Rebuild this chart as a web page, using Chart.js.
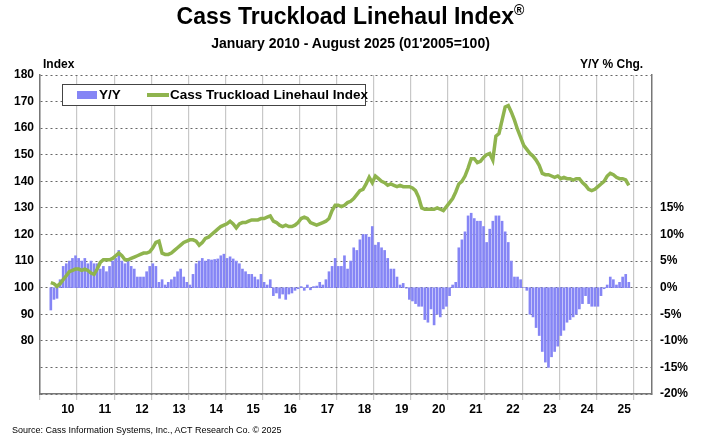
<!DOCTYPE html>
<html><head><meta charset="utf-8">
<script src="https://cdn.jsdelivr.net/npm/chart.js@4"></script>
<style>
body{margin:0;width:701px;height:441px;position:relative;background:#fff;font-family:"Liberation Sans",Arial,sans-serif;overflow:hidden}
.t{position:absolute;white-space:nowrap;font-weight:bold;color:#000}
#c{position:absolute;left:0;top:0}
</style></head><body>
<canvas id="c" width="701" height="441"></canvas>
<div class="t" style="left:0;width:701px;text-align:center;top:2px;font-size:23px">Cass Truckload Linehaul Index<sup style="font-size:14px">®</sup></div>
<div class="t" style="left:0;width:701px;text-align:center;top:35px;font-size:14px">January 2010 - August 2025 (01'2005=100)</div>
<div class="t" style="left:43px;top:57px;font-size:12px">Index</div>
<div class="t" style="left:580px;top:57px;font-size:12px">Y/Y % Chg.</div>
<div class="t" style="left:12px;top:425px;font-size:9px;font-weight:normal">Source: Cass Information Systems, Inc., ACT Research Co. © 2025</div>
<div style="position:absolute;left:62px;top:84px;width:302px;height:20px;border:1px solid #444;background:#fff;font-weight:bold;font-size:13.5px;white-space:nowrap">
 <span style="position:absolute;left:14px;top:6px;width:20px;height:8px;background:#8585f5"></span>
 <span style="position:absolute;left:36px;top:2px">Y/Y</span>
 <span style="position:absolute;left:84px;top:8px;width:22px;height:4px;background:#8fb44e"></span>
 <span style="position:absolute;left:107px;top:2px">Cass Truckload Linehaul Index</span>
</div>
<script>
const yearLabels=['10','11','12','13','14','15','16','17','18','19','20','21','22','23','24','25'];
const indexValues=[
101.9,101.5,100.5,101.5,103,104.5,106,106.5,107,107,106.5,107,
106.5,105.5,105,107,109.5,110.5,110.5,110.5,111,112,113,112,
110.5,110.5,111,111.5,112,112.5,113,113,113.5,115,117,117.5,
113,112.5,112.5,113,114,115,116,117,117.5,118,118,117.5,
116,117,118.5,119,120,121,122,123,123.5,124,125,124,
122.5,124,124.5,124.5,125,125.5,125.5,125.5,126,126,126.5,127,
125,124.5,123.5,123,123.5,123,123,123.5,124.5,126,126.5,126,
124.5,124,123.5,124,124.5,125,126,129,131,131,130.5,131,
132,132.5,133.5,135,136.5,137,139,141.5,139.5,142,141,140,
139.5,138.5,139,138.5,138,138.5,138,138,138,137.5,136.5,134,
130,129.5,129.5,129.5,129.5,130,129.5,129,130.5,132,133.5,136,
139,140,142,145,148.5,148.5,147,147.5,149,150,150.5,148,
157,158,163,168,168.5,166,163,159.5,156.5,153.5,152,150.5,
149.5,148,146,143,142.5,142.5,142,141.5,142,141,141.5,141,
141,140.5,141,141,139.5,138.5,137,136.5,137,138,139,140,
142,143,142.5,141.5,141,141,140.5,138.5];
const yoyValues=[
-4.2,-2.2,-2,1.5,4,4.5,5,5.5,6,5.5,5,5.5,
4.5,5,4.5,4.5,3.5,4,3,4,5,5.5,7,5,
4.5,5.5,4,3.5,2,2,2,3,4,4.5,4,1,
1.5,0.5,1,1.5,2,3,3.5,2,1,0.5,2.5,4.5,
5,5.5,5,5.3,5.2,5.3,5.4,6,6.3,5.5,5.8,5.4,
5,4.5,3.5,3,2.5,2.5,2,1.5,2.5,1,0.5,1.5,
-1.5,-1,-2,-1.2,-2.2,-1.2,-1,-0.5,-0.2,0.2,-0.5,0.5,
-0.4,0.2,0.3,1,0.5,1.5,3,4,5.5,4,4,6,
3.5,5,7.5,7,9,10,10,9.5,11.5,8,8.5,7.5,
7,5.5,3.5,3.5,2,0.5,0.8,-0.1,-2.2,-2.5,-3,-3.5,
-3.5,-6,-6.5,-4,-7,-5,-5.5,-4,-3.5,-1.5,0.5,1,
7.5,9,10.5,13.5,14,13,12.5,12.5,11.5,8.5,11,12.5,
13.5,13.5,12.5,10.5,8.5,5,2,2,1.5,0,-0.5,-5,
-5.5,-7.5,-9,-12,-14,-15,-13,-12,-11,-9,-8,-6.5,
-6,-5.5,-5,-4,-3,-1.5,-3,-3.5,-3.5,-3.5,-1.5,-0.2,
0.5,2,1.5,0.5,1,2,2.5,1];
const lineData=indexValues.map((v,i)=>({x:i+0.5,y:v}));
const barData=yoyValues.map((v,i)=>({x:i+0.5,y:v}));
const font={family:'"Liberation Sans",Arial,sans-serif',size:12,weight:'bold'};
new Chart(document.getElementById('c'),{
 data:{datasets:[
  {type:'line',data:lineData,yAxisID:'y',borderColor:'#8fb44e',borderWidth:3.5,pointRadius:0,tension:0,order:1},
  {type:'bar',data:barData,yAxisID:'y2',backgroundColor:'#8585f5',barThickness:2,order:2}
 ]},
 options:{responsive:false,animation:false,
  layout:{padding:{top:75,left:0,right:0,bottom:0}},
  plugins:{legend:{display:false},tooltip:{enabled:false}},
  scales:{
   x:{type:'linear',min:0,max:192,
    afterFit:s=>{s.height=47},
    ticks:{stepSize:6,autoSkip:false,maxRotation:0,color:'#000',font,padding:2,
      callback:v=>(v%12===6)?yearLabels[(v-6)/12]:''},
    grid:{color:c=>(c.tick&&c.tick.value%12===0)?'#c8c8c8':'rgba(0,0,0,0)',tickLength:6,lineWidth:1.2},
    border:{color:'#777',width:1.5}},
   y:{position:'left',min:60,max:180,
    afterFit:s=>{s.width=40},
    ticks:{stepSize:10,color:'#000',font,padding:6,callback:v=>v>=80?v:''},
    grid:{color:'#666',tickLength:0,lineWidth:1},
    border:{display:true,color:'#777',width:1.5,dash:[2,3]}},
   y2:{position:'right',min:-20,max:40,
    afterFit:s=>{s.width=49},
    ticks:{stepSize:5,color:'#000',font,padding:8,callback:v=>v<=15?v+'%':''},
    grid:{display:false,drawTicks:false},
    border:{color:'#777',width:1.5}}
  }
 }
});
</script>
</body></html>
